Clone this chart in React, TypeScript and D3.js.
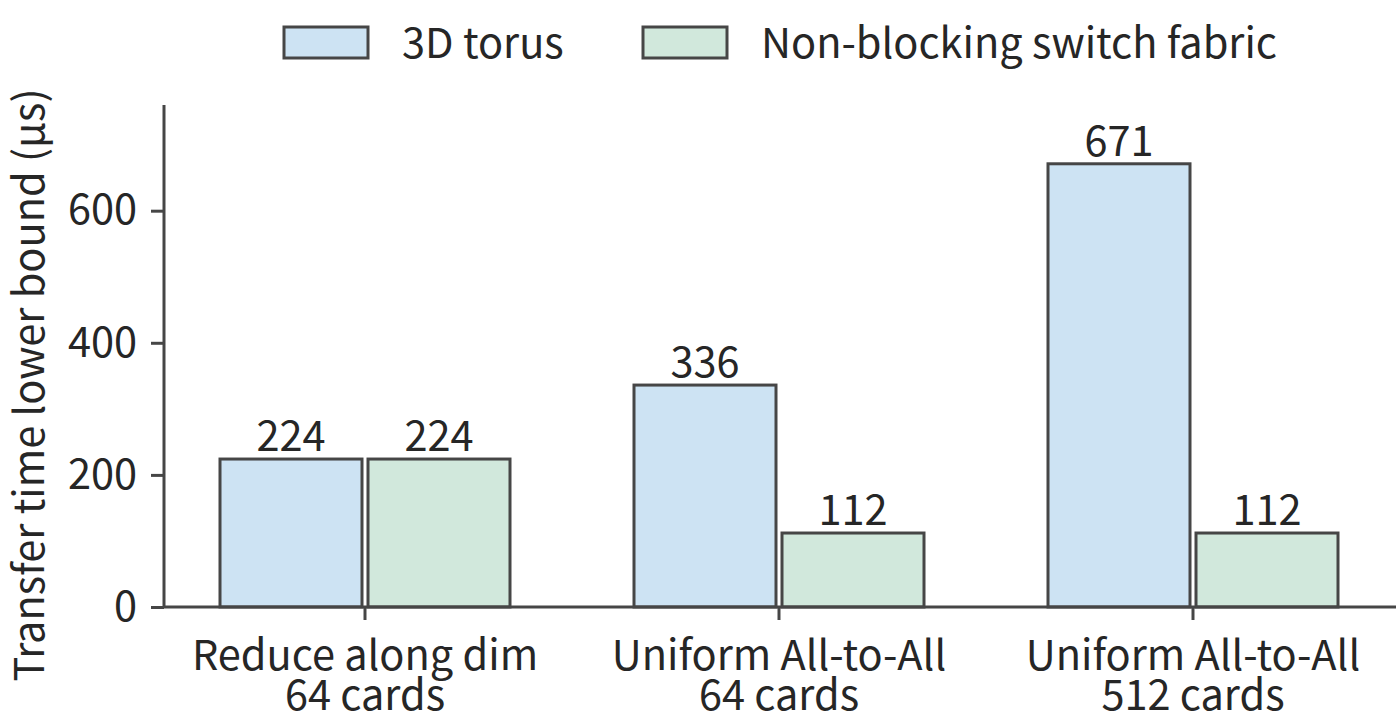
import { useEffect, useRef } from "react";
import * as d3 from "d3";

const categories = [
  ["Reduce along dim", "64 cards"],
  ["Uniform All-to-All", "64 cards"],
  ["Uniform All-to-All", "512 cards"],
];
const seriesNames = ["3D torus", "Non-blocking switch fabric"];
const torusValues = [224, 336, 671];
const switchValues = [224, 112, 112];
const yTicks = [0, 200, 400, 600];

const colors = ["#cde3f3", "#d1e8dc"];
const edge = "#464646";
const textColor = "#262626";
const font = "'Noto Sans CJK SC', 'Source Sans Pro', 'Noto Sans', sans-serif";

const App = () => {
  const ref = useRef<SVGSVGElement>(null);

  useEffect(() => {
    draw();
  }, []);

  const draw = () => {
    const width = 1400;
    const height = 728;
    const margin = { top: 105, right: 4, bottom: 121, left: 164 };
    const fontSize = 41.5;

    const svg = d3.select(ref.current).attr("width", width).attr("height", height);
    svg.selectAll("*").remove();

    const xScale = d3
      .scaleBand()
      .domain(categories.map((_, i) => String(i)))
      .range([158, 1400])
      .padding(0);

    const yScale = d3
      .scaleLinear()
      .domain([0, 760])
      .range([height - margin.bottom, margin.top]);

    const barWidth = 142;
    const gap = 6;

    const series = [torusValues, switchValues];

    // bars
    series.forEach((values, s) => {
      const g = svg.append("g");
      g.selectAll("rect")
        .data(values)
        .join("rect")
        .attr("x", (d, i) => {
          const c = xScale(String(i))! + xScale.bandwidth() / 2;
          return s === 0 ? c - gap / 2 - barWidth : c + gap / 2;
        })
        .attr("y", (d) => yScale(d))
        .attr("width", barWidth)
        .attr("height", (d) => yScale(0) - yScale(d))
        .attr("fill", colors[s])
        .attr("stroke", edge)
        .attr("stroke-width", 3);

      g.selectAll("text")
        .data(values)
        .join("text")
        .attr("x", (d, i) => {
          const c = xScale(String(i))! + xScale.bandwidth() / 2;
          return s === 0 ? c - gap / 2 - barWidth / 2 : c + gap / 2 + barWidth / 2;
        })
        .attr("y", (d) => yScale(d) - 8)
        .attr("text-anchor", "middle")
        .attr("font-family", font)
        .attr("font-size", fontSize)
        .attr("fill", textColor)
        .text((d) => d);
    });

    // y axis
    const yAxis = svg
      .append("g")
      .attr("transform", `translate(${margin.left},0)`)
      .call(d3.axisLeft(yScale).tickValues(yTicks).tickSize(13).tickPadding(14));
    yAxis.select(".domain").attr("stroke", edge).attr("stroke-width", 3)
      .attr("d", `M0,${yScale(760)}V${yScale(0)}`);
    yAxis.selectAll(".tick line").attr("stroke", edge).attr("stroke-width", 3);
    yAxis
      .selectAll(".tick text")
      .attr("font-family", font)
      .attr("font-size", fontSize)
      .attr("fill", textColor);

    // x axis
    const xAxis = svg
      .append("g")
      .attr("transform", `translate(0,${yScale(0)})`)
      .call(d3.axisBottom(xScale).tickSize(13).tickFormat(() => ""));
    xAxis.select(".domain").attr("stroke", edge).attr("stroke-width", 3)
      .attr("d", `M${margin.left},0H${width - margin.right}`);
    xAxis.selectAll(".tick line").attr("stroke", edge).attr("stroke-width", 3);

    xAxis
      .selectAll(".tick")
      .append("text")
      .attr("font-family", font)
      .attr("font-size", fontSize)
      .attr("fill", textColor)
      .attr("text-anchor", "middle")
      .selectAll("tspan")
      .data((d: any) => categories[+d])
      .join("tspan")
      .attr("x", 0)
      .attr("y", (d, i) => 63 + i * 40)
      .text((d) => d);

    // y axis label
    svg
      .append("text")
      .attr("transform", `translate(44, ${385}) rotate(-90)`)
      .attr("text-anchor", "middle")
      .attr("font-family", font)
      .attr("font-size", fontSize)
      .attr("fill", textColor)
      .text("Transfer time lower bound (µs)");

    // legend
    const legendX = [284, 643];
    const legend = svg
      .append("g")
      .selectAll("g")
      .data(seriesNames)
      .join("g")
      .attr("transform", (d, i) => `translate(${legendX[i]},27)`);
    legend
      .append("rect")
      .attr("width", 84)
      .attr("height", 31)
      .attr("fill", (d, i) => colors[i])
      .attr("stroke", edge)
      .attr("stroke-width", 3);
    legend
      .append("text")
      .attr("x", 118)
      .attr("y", 31)
      .attr("font-family", font)
      .attr("font-size", fontSize)
      .attr("fill", textColor)
      .text((d) => d);
  };

  return (
    <div style={{ position: "absolute", left: 0, top: 0 }}>
      <svg ref={ref}></svg>
    </div>
  );
};

export default App;
